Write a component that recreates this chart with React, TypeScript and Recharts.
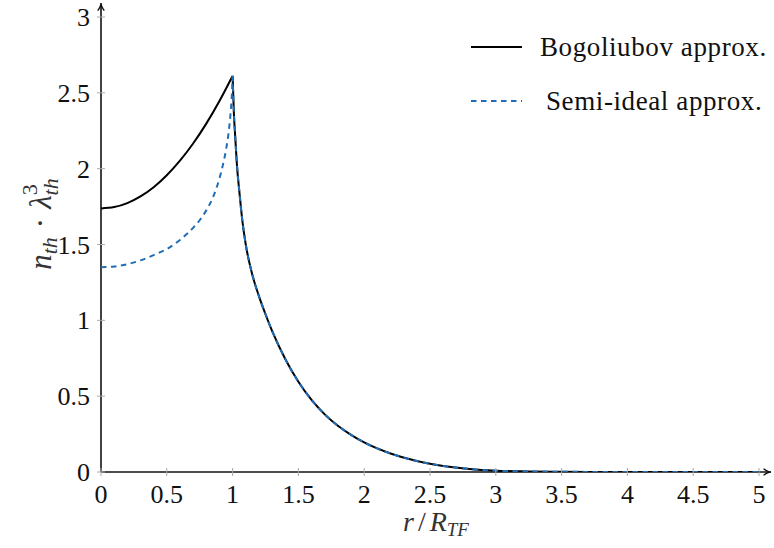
import React from 'react';
import { LineChart, Line, XAxis, YAxis, ReferenceLine, Legend } from 'recharts';

// Radial positions (in units of R_TF) inside the Thomas–Fermi radius
const radiusInnerBogoliubov = [0, 0.1, 0.2, 0.3, 0.4, 0.5, 0.6, 0.7, 0.8, 0.9, 1.0];
const bogoliubovInner = [1.738, 1.747, 1.773, 1.817, 1.878, 1.957, 2.053, 2.166, 2.297, 2.446, 2.612];

const radiusInnerSemiIdeal = [0, 0.1, 0.2, 0.3, 0.4, 0.5, 0.6, 0.7, 0.75, 0.8, 0.85, 0.9, 0.925, 0.95, 0.97, 0.985, 0.995, 1.0];
const semiIdealInner = [1.35, 1.355, 1.37, 1.395, 1.43, 1.47, 1.53, 1.61, 1.66, 1.725, 1.81, 1.935, 2.02, 2.125, 2.24, 2.37, 2.5, 2.612];

// Outside the condensate both approximations coincide
const radiusOuter = [1.0, 1.01, 1.02, 1.035, 1.05, 1.075, 1.1, 1.15, 1.2, 1.25, 1.3, 1.4, 1.5, 1.6, 1.7, 1.8, 1.9, 2.0, 2.2, 2.4, 2.6, 2.8, 3.0, 3.25, 3.5, 4.0, 4.5, 5.0];
const densityOuter = [2.612, 2.36, 2.21, 2.0, 1.86, 1.65, 1.5, 1.3, 1.16, 1.04, 0.93, 0.745, 0.595, 0.475, 0.38, 0.305, 0.245, 0.195, 0.122, 0.072, 0.04, 0.02, 0.009, 0.004, 0.0015, 0.0002, 0, 0];

const xTicks = [0, 0.5, 1, 1.5, 2, 2.5, 3, 3.5, 4, 4.5, 5];
const yTicks = [0, 0.5, 1, 1.5, 2, 2.5, 3];

const seriesNames = ['Bogoliubov approx.', 'Semi-ideal approx.'];

const toPoints = (xs: number[], ys: number[]) => xs.map((r, i) => ({ r, n: ys[i] }));

const bogoliubovInnerData = toPoints(radiusInnerBogoliubov, bogoliubovInner);
const semiIdealInnerData = toPoints(radiusInnerSemiIdeal, semiIdealInner);
const outerData = toPoints(radiusOuter, densityOuter);

const FONT = 'Liberation Serif';
const BLUE = '#1f6db6';
const FS = 26;

const YTick = (props: any) => {
  const { x, y, payload } = props;
  return (
    <g>
      <line x1={x - 4} x2={x + 4} y1={y} y2={y} stroke="#aaa" strokeWidth={1} />
      <text x={x - 11} y={y + 9} textAnchor="end" fontFamily={FONT} fontSize={FS} fill="#111">
        {payload.value}
      </text>
    </g>
  );
};

const XTick = (props: any) => {
  const { x, y, payload } = props;
  return (
    <g>
      <line x1={x} x2={x} y1={y - 4} y2={y + 4} stroke="#aaa" strokeWidth={1} />
      <text x={x} y={y + 31} textAnchor="middle" fontFamily={FONT} fontSize={FS} fill="#111">
        {payload.value}
      </text>
    </g>
  );
};

const ArrowLine = (props: any) => {
  const { x1, y1, x2, y2 } = props;
  const ang = Math.atan2(y2 - y1, x2 - x1);
  const len = 8;
  const spread = 0.42;
  const ax = x2 - len * Math.cos(ang - spread);
  const ay = y2 - len * Math.sin(ang - spread);
  const bx = x2 - len * Math.cos(ang + spread);
  const by = y2 - len * Math.sin(ang + spread);
  const qx = x2 - 3 * Math.cos(ang);
  const qy = y2 - 3 * Math.sin(ang);
  return (
    <g>
      <line x1={x1} y1={y1} x2={x2} y2={y2} stroke="#111" strokeWidth={1.6} />
      <path d={`M${ax},${ay} Q${qx},${qy} ${x2},${y2} Q${qx},${qy} ${bx},${by}`} fill="none" stroke="#111" strokeWidth={1.4} />
    </g>
  );
};

const XLabel = () => (
  <text x={436} y={531} textAnchor="middle" fontFamily={FONT} fontSize={28} fill="#333">
    <tspan fontStyle="italic">r</tspan>
    <tspan dx={4}>/</tspan>
    <tspan dx={4} fontStyle="italic">R</tspan>
    <tspan fontStyle="italic" fontSize={19} dy={5}>TF</tspan>
  </text>
);

const YLabel = () => (
  <text transform="translate(51,224) rotate(-90)" textAnchor="middle" fontFamily={FONT} fontSize={31} fill="#333">
    <tspan fontStyle="italic">n</tspan>
    <tspan fontStyle="italic" fontSize={22} dy={6}>th</tspan>
    <tspan dy={-6} dx={9}>·</tspan>
    <tspan dx={9} fontStyle="italic">λ</tspan>
    <tspan fontStyle="italic" fontSize={22} dy={7}>th</tspan>
    <tspan fontSize={22} dx={-17} dy={-21}>3</tspan>
  </text>
);

const LegendBox = () => (
  <svg width={314} height={100} style={{ display: 'block' }}>
    <line x1={11} x2={62} y1={27} y2={27} stroke="#000" strokeWidth={2} />
    <text x={80} y={36} fontFamily={FONT} fontSize={27} letterSpacing={0.6} fill="#111">{seriesNames[0]}</text>
    <line x1={11} x2={62} y1={81} y2={81} stroke={BLUE} strokeWidth={2} strokeDasharray="5.5 4.5" />
    <text x={86} y={90} fontFamily={FONT} fontSize={27} letterSpacing={0.6} fill="#111">{seriesNames[1]}</text>
  </svg>
);

export default function App() {
  return (
    <div style={{ position: 'absolute', left: 0, top: 0, width: 774, height: 548, background: '#fff', fontFamily: '"Liberation Serif", serif' }}>
      <LineChart width={774} height={548} margin={{ top: 17, right: 15, bottom: 0, left: 0 }} style={{ fontFamily: '"Liberation Serif", serif' }}>
        <XAxis
          dataKey="r"
          type="number"
          domain={[0, 5]}
          ticks={xTicks}
          axisLine={false}
          tickSize={0}
          tickMargin={0}
          tick={<XTick />}
          height={76}
          interval={0}
          allowDataOverflow
          label={<XLabel />}
        />
        <YAxis
          type="number"
          domain={[0, 3]}
          ticks={yTicks}
          axisLine={false}
          tickSize={0}
          tickMargin={0}
          tick={<YTick />}
          width={101}
          interval={0}
          allowDataOverflow
          label={<YLabel />}
        />
        <ReferenceLine segment={[{ x: 0, y: 0 }, { x: 5.09, y: 0 }]} ifOverflow="visible" shape={<ArrowLine />} />
        <ReferenceLine segment={[{ x: 0, y: 0 }, { x: 0, y: 3.09 }]} ifOverflow="visible" shape={<ArrowLine />} />
        <Legend
          layout="vertical"
          align="center"
          verticalAlign="middle"
          content={<LegendBox />}
          wrapperStyle={{ top: 20, left: 460, width: 314, height: 100 }}
        />
        <Line data={bogoliubovInnerData} dataKey="n" type="natural" stroke="#000" strokeWidth={2} dot={false} isAnimationActive={false} name={seriesNames[0]} />
        <Line data={outerData} dataKey="n" type="monotone" stroke="#000" strokeWidth={2} dot={false} isAnimationActive={false} legendType="none" />
        <Line data={semiIdealInnerData} dataKey="n" type="monotone" stroke={BLUE} strokeWidth={2} strokeDasharray="5.5 4.5" dot={false} isAnimationActive={false} name={seriesNames[1]} />
        <Line data={outerData} dataKey="n" type="monotone" stroke={BLUE} strokeWidth={2} strokeDasharray="5.5 4.5" dot={false} isAnimationActive={false} legendType="none" />
      </LineChart>
    </div>
  );
}
